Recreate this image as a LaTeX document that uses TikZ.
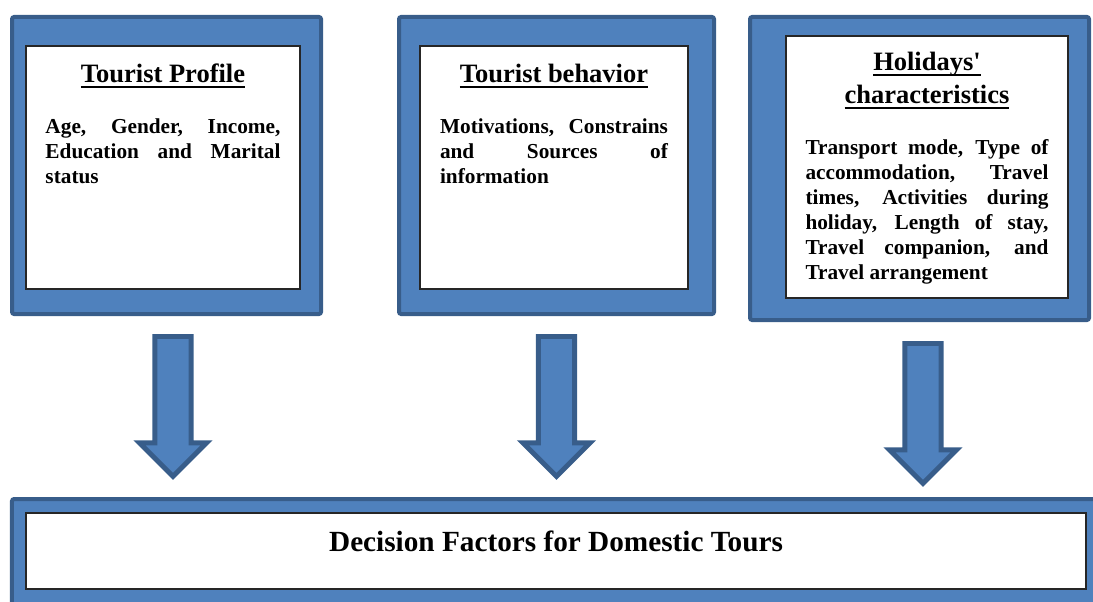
\documentclass[tikz,border=0pt]{standalone}
\usepackage{fontspec}
\setmainfont{Liberation Serif}
\usetikzlibrary{shapes.arrows}
\definecolor{boxblue}{RGB}{79,129,189}
\definecolor{edgeblue}{RGB}{56,93,138}
\newcommand{\ulbar}[1]{\setbox0\hbox{#1}\rlap{\vrule height -2.8pt depth 4.2pt width \wd0}\box0}
\hyphenpenalty=10000

\begin{document}
\begin{tikzpicture}[
  frame/.style={draw=edgeblue, fill=boxblue, line width=0.1cm, rounded corners=1.5pt, inner sep=0pt},
  inbox/.style={draw=black!85, fill=white, line width=0.8pt, inner sep=0pt},
  title/.style={font=\bfseries\fontsize{18.85}{23.4}\selectfont, align=center, inner sep=0pt, anchor=north},
  body/.style={font=\bfseries\fontsize{15.15}{17.8}\selectfont, align=justify, inner sep=0pt, anchor=north},
  bigarrow/.style={single arrow, draw=edgeblue, fill=boxblue, line width=3.5pt, rotate=-90,
    minimum height=3.5cm, inner xsep=0pt, inner ysep=0.39cm, single arrow head extend=0.39cm, anchor=tail}
]
\useasboundingbox (0,0) rectangle (27.325,15.025);

\node[frame, minimum width=7.725cm, minimum height=7.425cm] (prof) at (4.1625,10.8875) {};
\node[frame, minimum width=7.875cm, minimum height=7.425cm] (behav) at (13.9125,10.8875) {};
\node[frame, minimum width=8.475cm, minimum height=7.575cm] (holi) at (22.9875,10.8125) {};
\node[frame, minimum width=27.2cm, minimum height=2.775cm] (dec) at (13.9,1.1625) {};

\node[inbox, minimum width=6.85cm, minimum height=6.075cm] (profIn) at (4.075,10.8375) {};
\node[inbox, minimum width=6.7cm, minimum height=6.075cm] (behavIn) at (13.85,10.8375) {};
\node[inbox, minimum width=7.05cm, minimum height=6.55cm] (holiIn) at (23.175,10.85) {};
\node[inbox, minimum width=26.5cm, minimum height=1.9cm] (decIn) at (13.9,1.25) {};

\node[title] (profT) at ([yshift=-0.45cm]profIn.north) {\ulbar{Tourist Profile}};
\node[body, text width=5.875cm] (profB) at ([yshift=-1.825cm]profIn.north)
  {Age, Gender, Income,\linebreak Education and Marital\linebreak status};

\node[title] (behavT) at ([yshift=-0.45cm]behavIn.north) {\ulbar{Tourist behavior}};
\node[body, text width=5.7cm] (behavB) at ([yshift=-1.825cm]behavIn.north)
  {Motivations, Constrains\linebreak and Sources of\linebreak information};

\node[title] (holiT) at ([yshift=-0.4cm]holiIn.north) {\ulbar{Holidays\textquotesingle}\\\ulbar{characteristics}};
\node[body, text width=6.075cm] (holiB) at ([yshift=-2.6cm]holiIn.north)
  {Transport mode, Type of\linebreak accommodation, Travel\linebreak times, Activities during\linebreak
   holiday, Length of stay,\linebreak Travel companion, and\linebreak Travel arrangement};

\node[font=\bfseries\fontsize{20.8}{25}\selectfont, inner sep=0pt] (decT) at (13.9,1.5) {Decision Factors for Domestic Tours};

\node[bigarrow] (arr1) at ([xshift=0.1625cm,yshift=-0.45cm]prof.south) {};
\node[bigarrow] (arr2) at ([yshift=-0.45cm]behav.south) {};
\node[bigarrow] (arr3) at ([xshift=0.0875cm,yshift=-0.475cm]holi.south) {};
\end{tikzpicture}
\end{document}
